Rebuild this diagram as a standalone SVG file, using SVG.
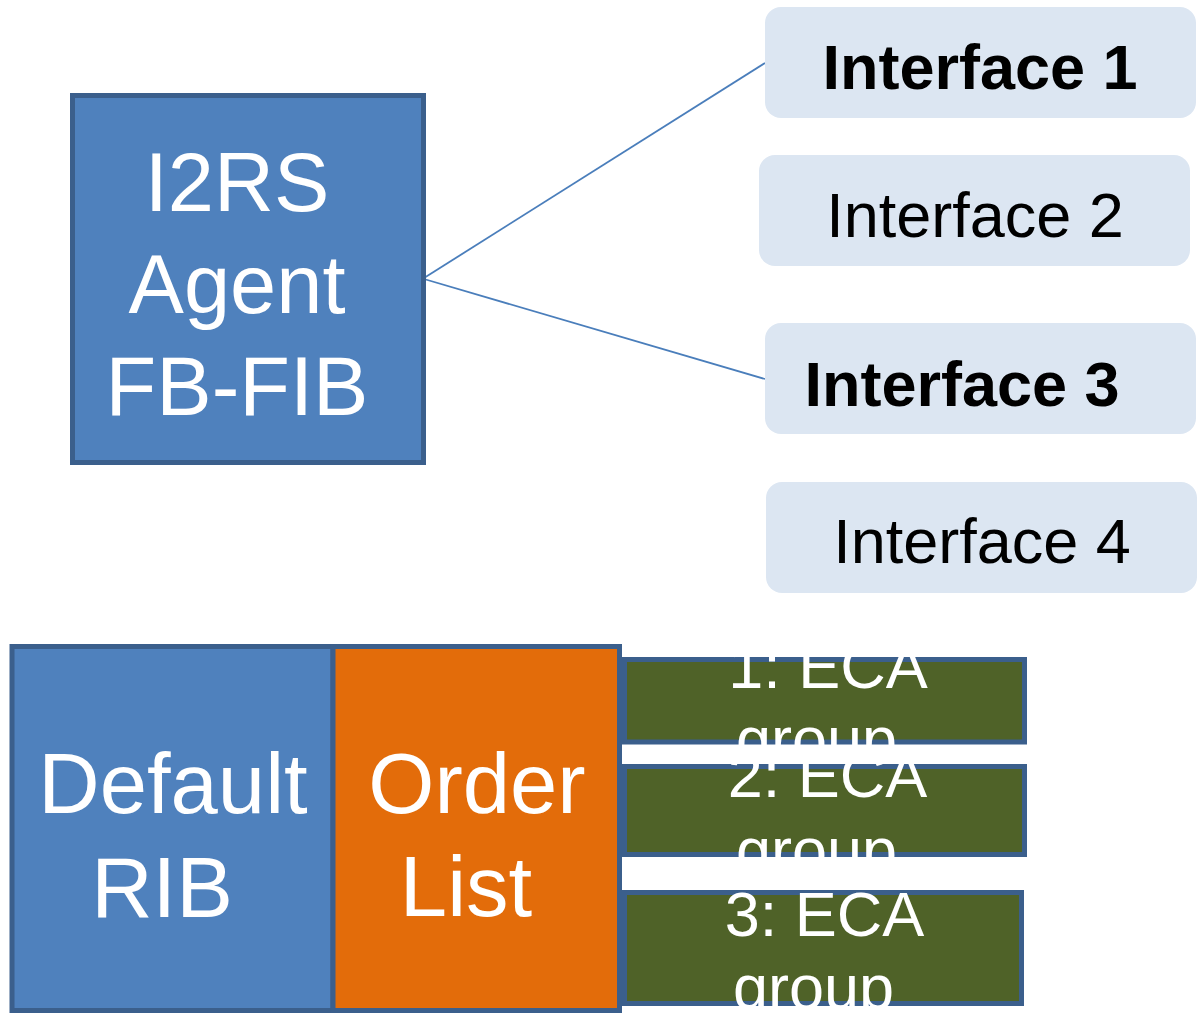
<svg xmlns="http://www.w3.org/2000/svg" width="1198" height="1014" viewBox="0 0 1198 1014">
<style>
  text { font-family: "Liberation Sans", Arial, sans-serif; }
  .wt { fill: #ffffff; text-anchor: middle; }
  .bk { fill: #000000; text-anchor: middle; font-size: 63px; }
  .bold { font-weight: bold; }
  .iface { fill: #dce6f2; }
  .blue { fill: #4f81bd; stroke: #3b5f8c; stroke-width: 5; }
  .orange { fill: #e36c0a; stroke: #3b5f8c; stroke-width: 5; }
  .olive { fill: #4f6228; stroke: #3b5f8c; stroke-width: 5; }
  .conn { stroke: #4a7ebb; stroke-width: 1.8; fill: none; }
</style>
<rect width="1198" height="1014" fill="#ffffff"/>
<g id="connectors">
  <line class="conn" x1="424" y1="278" x2="765" y2="63"/>
  <line class="conn" x1="424" y1="279" x2="765" y2="379"/>
</g>
<g id="agent">
  <rect class="blue" x="72.5" y="95.5" width="351" height="367"/>
  <text class="wt" font-size="83" x="237" y="211">I2RS</text>
  <text class="wt" font-size="83" x="237" y="313">Agent</text>
  <text class="wt" font-size="83" x="237" y="415">FB-FIB</text>
</g>
<g id="iface1">
  <rect class="iface" x="765" y="7" width="431" height="111" rx="16"/>
  <text class="bk bold" x="980" y="89" font-size="64.5">Interface 1</text>
</g>
<g id="iface2">
  <rect class="iface" x="759" y="155" width="431" height="111" rx="16"/>
  <text class="bk" x="975" y="237">Interface 2</text>
</g>
<g id="iface3">
  <rect class="iface" x="765" y="323" width="431" height="111" rx="16"/>
  <text class="bk bold" x="962" y="406" font-size="64.5">Interface 3</text>
</g>
<g id="iface4">
  <rect class="iface" x="766" y="482" width="431" height="111" rx="16"/>
  <text class="bk" x="982" y="563">Interface 4</text>
</g>
<g id="default-rib">
  <rect class="blue" x="12" y="646.5" width="321" height="364"/>
  <text class="wt" font-size="85" x="173" y="813">Default</text>
  <text class="wt" font-size="85" x="162" y="917">RIB</text>
</g>
<g id="order-list">
  <rect class="orange" x="333" y="646.5" width="286.5" height="364"/>
  <text class="wt" font-size="85" x="477" y="813">Order</text>
  <text class="wt" font-size="85" x="466" y="916">List</text>
</g>
<g id="eca1">
  <rect class="olive" x="624.5" y="659.5" width="400" height="82.5"/>
  <text class="wt" font-size="63" x="828" y="688">1: ECA</text>
  <text class="wt" font-size="63" x="816.5" y="761">group</text>
</g>
<g id="eca2">
  <rect class="olive" x="624.5" y="766.5" width="400" height="88"/>
  <text class="wt" font-size="63" x="827.5" y="797">2: ECA</text>
  <text class="wt" font-size="63" x="816.5" y="872">group</text>
</g>
<g id="eca3">
  <rect class="olive" x="624.5" y="892.5" width="397" height="111"/>
  <text class="wt" font-size="63" x="824.5" y="936">3: ECA</text>
  <text class="wt" font-size="63" x="813.5" y="1009">group</text>
</g>
</svg>
